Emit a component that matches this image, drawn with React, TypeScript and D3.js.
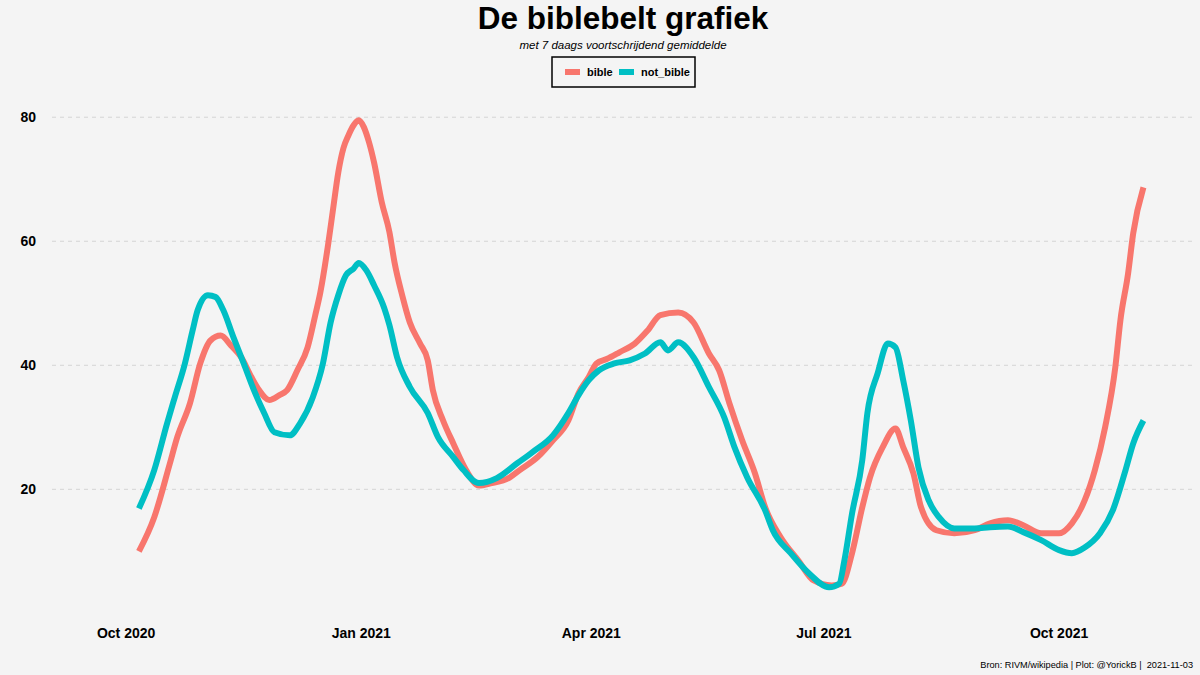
import { useRef, useEffect } from "react";
import * as d3 from "d3";

// 7-day rolling average
const bible: [string, number][] = [
  ["2020-10-06", 10.0], ["2020-10-12", 15.5], ["2020-10-18", 24.0], ["2020-10-21", 28.4],
  ["2020-10-26", 33.9], ["2020-10-30", 40.3], ["2020-11-03", 44.0], ["2020-11-07", 44.8],
  ["2020-11-11", 43.2], ["2020-11-15", 41.3], ["2020-11-19", 38.1], ["2020-11-22", 36.0],
  ["2020-11-26", 34.4], ["2020-11-30", 35.2], ["2020-12-03", 36.0], ["2020-12-07", 39.2],
  ["2020-12-11", 42.9], ["2020-12-14", 48.1], ["2020-12-16", 51.8], ["2020-12-19", 59.4],
  ["2020-12-21", 65.3], ["2020-12-23", 71.1], ["2020-12-25", 75.0], ["2020-12-27", 77.1],
  ["2020-12-29", 78.7], ["2020-12-31", 79.5], ["2021-01-02", 78.4], ["2021-01-04", 76.0],
  ["2021-01-06", 72.7], ["2021-01-09", 66.3], ["2021-01-12", 61.5], ["2021-01-14", 56.6],
  ["2021-01-17", 51.3], ["2021-01-20", 46.9], ["2021-01-24", 43.5], ["2021-01-27", 40.8],
  ["2021-01-29", 36.0], ["2021-02-02", 31.1], ["2021-02-06", 27.4], ["2021-02-11", 23.1],
  ["2021-02-16", 20.6], ["2021-02-21", 21.0], ["2021-02-28", 21.9], ["2021-03-04", 23.1],
  ["2021-03-11", 25.2], ["2021-03-17", 27.9], ["2021-03-23", 31.1], ["2021-03-27", 35.5],
  ["2021-03-31", 38.1], ["2021-04-03", 40.3], ["2021-04-07", 41.0], ["2021-04-12", 42.1],
  ["2021-04-18", 43.5], ["2021-04-23", 45.6], ["2021-04-28", 48.1], ["2021-05-05", 48.5],
  ["2021-05-11", 46.9], ["2021-05-17", 41.9], ["2021-05-21", 39.2], ["2021-05-25", 33.9],
  ["2021-05-30", 27.9], ["2021-06-04", 22.6], ["2021-06-08", 17.1], ["2021-06-14", 12.3],
  ["2021-06-21", 8.5], ["2021-06-27", 5.3], ["2021-07-04", 4.5], ["2021-07-08", 4.8],
  ["2021-07-12", 9.7], ["2021-07-16", 17.1], ["2021-07-19", 21.9], ["2021-07-24", 26.8],
  ["2021-07-29", 29.8], ["2021-08-01", 26.8], ["2021-08-05", 22.6], ["2021-08-08", 17.1],
  ["2021-08-14", 13.4], ["2021-08-21", 12.9], ["2021-08-29", 13.4], ["2021-09-04", 14.5],
  ["2021-09-11", 15.0], ["2021-09-17", 14.2], ["2021-09-24", 12.9], ["2021-10-01", 12.9],
  ["2021-10-06", 14.5], ["2021-10-11", 18.2], ["2021-10-15", 23.1], ["2021-10-19", 30.0],
  ["2021-10-23", 39.7], ["2021-10-25", 47.3], ["2021-10-28", 54.8], ["2021-10-30", 61.3],
  ["2021-11-03", 68.7],
];

const notBible: [string, number][] = [
  ["2020-10-06", 16.9], ["2020-10-12", 23.1], ["2020-10-17", 30.6], ["2020-10-20", 34.8],
  ["2020-10-24", 40.3], ["2020-10-27", 45.6], ["2020-10-29", 48.9], ["2020-11-02", 51.3],
  ["2020-11-05", 51.0], ["2020-11-08", 48.9], ["2020-11-12", 44.5], ["2020-11-16", 40.3],
  ["2020-11-20", 36.0], ["2020-11-24", 32.3], ["2020-11-28", 29.2], ["2020-12-04", 28.7],
  ["2020-12-08", 30.6], ["2020-12-13", 34.8], ["2020-12-17", 40.3], ["2020-12-20", 46.9],
  ["2020-12-23", 51.3], ["2020-12-26", 54.5], ["2020-12-29", 55.6], ["2020-12-31", 56.5],
  ["2021-01-03", 55.3], ["2021-01-06", 52.9], ["2021-01-10", 49.2], ["2021-01-12", 46.5],
  ["2021-01-15", 41.3], ["2021-01-20", 36.5], ["2021-01-27", 32.3], ["2021-01-31", 28.4],
  ["2021-02-06", 25.2], ["2021-02-10", 23.1], ["2021-02-16", 21.0], ["2021-02-23", 21.8],
  ["2021-03-03", 24.2], ["2021-03-09", 26.0], ["2021-03-17", 28.7], ["2021-03-23", 32.3],
  ["2021-03-27", 35.2], ["2021-03-31", 37.6], ["2021-04-04", 39.2], ["2021-04-10", 40.3],
  ["2021-04-16", 40.8], ["2021-04-22", 41.9], ["2021-04-28", 43.7], ["2021-05-01", 42.4],
  ["2021-05-05", 43.7], ["2021-05-11", 41.3], ["2021-05-17", 36.5], ["2021-05-23", 31.6],
  ["2021-05-27", 26.8], ["2021-06-01", 21.9], ["2021-06-08", 16.6], ["2021-06-11", 13.4],
  ["2021-06-18", 9.7], ["2021-06-25", 6.5], ["2021-07-03", 4.2], ["2021-07-07", 4.8],
  ["2021-07-09", 8.5], ["2021-07-12", 16.1], ["2021-07-16", 24.7], ["2021-07-18", 32.3],
  ["2021-07-22", 38.7], ["2021-07-26", 43.5], ["2021-07-29", 42.9], ["2021-08-01", 37.6],
  ["2021-08-04", 31.1], ["2021-08-07", 23.5], ["2021-08-11", 18.2], ["2021-08-15", 15.5],
  ["2021-08-21", 13.7], ["2021-08-29", 13.7], ["2021-09-04", 13.9], ["2021-09-11", 14.0],
  ["2021-09-17", 13.1], ["2021-09-24", 11.8], ["2021-10-01", 10.2], ["2021-10-06", 9.7],
  ["2021-10-11", 10.6], ["2021-10-17", 12.9], ["2021-10-22", 16.6], ["2021-10-27", 23.1],
  ["2021-10-30", 27.4], ["2021-11-03", 31.1],
];

const yTicks = [20, 40, 60, 80];
const xTicks = ["2020-10-01", "2021-01-01", "2021-04-01", "2021-07-01", "2021-10-01"];
const seriesNames = ["bible", "not_bible"];
const seriesColors = ["#F8766D", "#00BFC4"];

const title = "De biblebelt grafiek";
const subtitle = "met 7 daags voortschrijdend gemiddelde";
const caption = "Bron: RIVM/wikipedia | Plot: @YorickB |  2021-11-03";

const W = 1200;
const H = 675;
const FONT = "'Liberation Sans', Arial, sans-serif";

export default function App() {
  const svgRef = useRef<SVGSVGElement>(null);

  useEffect(() => {
    if (!svgRef.current) return;
    const svg = d3.select(svgRef.current);
    svg.selectAll("*").remove();

    const parse = d3.utcParse("%Y-%m-%d");
    const panel = { left: 52, right: 1192, top: 98, bottom: 609 };

    svg.append("rect").attr("width", W).attr("height", H).attr("fill", "#f4f4f4");

    const x = d3
      .scaleUtc()
      .domain([parse("2020-09-02")!, parse("2021-11-22")!])
      .range([panel.left, panel.right]);

    const y = d3.scaleLinear().domain([0.7, 83.1]).range([panel.bottom, panel.top]);

    // grid
    svg
      .append("g")
      .selectAll("line")
      .data(yTicks)
      .join("line")
      .attr("x1", panel.left)
      .attr("x2", panel.right)
      .attr("y1", (d) => y(d))
      .attr("y2", (d) => y(d))
      .attr("stroke", "#d4d4d4")
      .attr("stroke-width", 1)
      .attr("stroke-dasharray", "4,4");

    svg
      .append("g")
      .selectAll("text")
      .data(yTicks)
      .join("text")
      .attr("x", 36)
      .attr("y", (d) => y(d))
      .attr("dy", "0.36em")
      .attr("text-anchor", "end")
      .style("font", `bold 14px ${FONT}`)
      .attr("fill", "#000")
      .text((d) => d);

    const fmt = d3.utcFormat("%b %Y");
    svg
      .append("g")
      .selectAll("text")
      .data(xTicks.map((d) => parse(d)!))
      .join("text")
      .attr("x", (d) => x(d))
      .attr("y", 638)
      .attr("text-anchor", "middle")
      .style("font", `bold 14px ${FONT}`)
      .attr("fill", "#000")
      .text((d) => fmt(d));

    const line = d3
      .line<[string, number]>()
      .x((d) => x(parse(d[0])!))
      .y((d) => y(d[1]))
      .curve(d3.curveMonotoneX);

    [bible, notBible].forEach((s, i) => {
      svg
        .append("path")
        .attr("d", line(s))
        .attr("fill", "none")
        .attr("stroke", seriesColors[i])
        .attr("stroke-width", 6)
        .attr("stroke-linejoin", "round");
    });

    // titles
    svg
      .append("text")
      .attr("x", 623)
      .attr("y", 29)
      .attr("text-anchor", "middle")
      .style("font", `bold 31.5px ${FONT}`)
      .text(title);

    svg
      .append("text")
      .attr("x", 623)
      .attr("y", 49)
      .attr("text-anchor", "middle")
      .style("font", `italic 11.5px ${FONT}`)
      .text(subtitle);

    // legend
    const lg = svg.append("g");
    lg.append("rect")
      .attr("x", 552)
      .attr("y", 57)
      .attr("width", 143)
      .attr("height", 30)
      .attr("fill", "none")
      .attr("stroke", "#000")
      .attr("stroke-width", 1.5);

    const keyX = [565, 619];
    seriesNames.forEach((name, i) => {
      lg.append("rect")
        .attr("x", keyX[i])
        .attr("y", 69)
        .attr("width", 15)
        .attr("height", 6)
        .attr("fill", seriesColors[i]);
      lg.append("text")
        .attr("x", keyX[i] + 22)
        .attr("y", 76)
        .style("font", `bold 11px ${FONT}`)
        .text(name);
    });

    svg
      .append("text")
      .attr("x", 1193)
      .attr("y", 668)
      .attr("text-anchor", "end")
      .style("font", `9.2px ${FONT}`)
      .style("white-space", "pre")
      .text(caption);
  }, []);

  return (
    <div style={{ position: "fixed", left: 0, top: 0 }}>
      <svg ref={svgRef} width={W} height={H} style={{ display: "block" }} />
    </div>
  );
}
